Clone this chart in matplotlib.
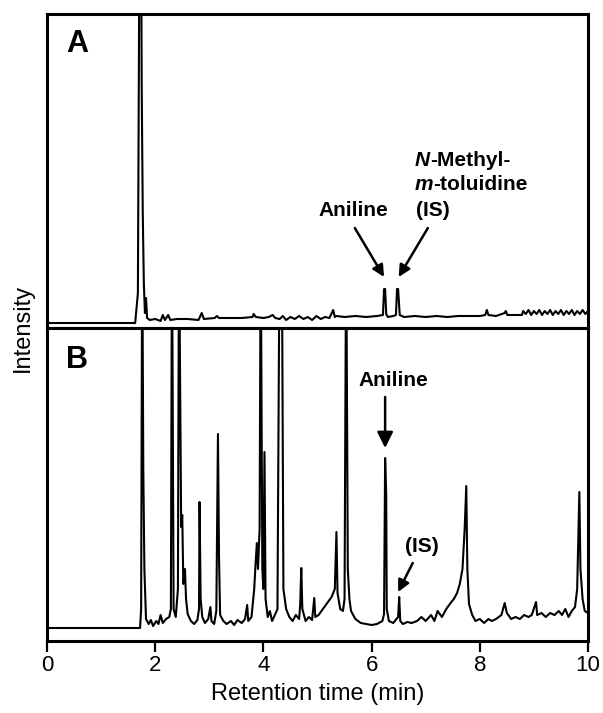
import matplotlib
matplotlib.use('Agg')
import matplotlib.pyplot as plt

# chromatogram A (standard), intensity in arbitrary units
time_a = [0.00, 1.63, 1.65, 1.68, 1.71, 1.74, 1.75, 1.77, 1.79, 1.81, 1.83, 1.85, 1.90, 2.00,
          2.10, 2.14, 2.18, 2.24, 2.28, 2.40, 2.60, 2.80, 2.86, 2.90, 3.10, 3.14, 3.18, 3.40,
          3.60, 3.80, 3.82, 3.86, 4.00, 4.10, 4.17, 4.22, 4.30, 4.36, 4.42, 4.50, 4.58, 4.66,
          4.74, 4.82, 4.90, 4.98, 5.06, 5.14, 5.22, 5.29, 5.32, 5.35, 5.50, 5.70, 5.90, 6.10,
          6.21, 6.23, 6.25, 6.27, 6.30, 6.40, 6.45, 6.47, 6.49, 6.52, 6.60, 6.80, 7.00, 7.20,
          7.40, 7.60, 7.80, 8.00, 8.10, 8.13, 8.16, 8.30, 8.46, 8.48, 8.51, 8.65, 8.78, 8.80,
          8.85, 8.90, 8.95, 9.00, 9.05, 9.10, 9.15, 9.20, 9.25, 9.30, 9.35, 9.40, 9.45, 9.50,
          9.55, 9.60, 9.65, 9.70, 9.75, 9.80, 9.85, 9.90, 9.95, 10.0]
inten_a = [0, 0, 12, 30, 400, 400, 240, 110, 40, 10, 25, 5, 3, 4,
           2, 8, 3, 8, 3, 4, 4, 3, 10, 4, 5, 7, 5, 5,
           5, 6, 9, 6, 5, 6, 8, 5, 4, 7, 3, 6, 4, 7,
           4, 6, 3, 7, 4, 6, 5, 13, 6, 7, 6, 7, 6, 7,
           8, 34, 34, 9, 6, 7, 8, 34, 34, 8, 6, 7, 6, 7,
           6, 7, 7, 7, 8, 13, 8, 7, 10, 12, 8, 8, 8, 12,
           9, 13, 8, 12, 9, 13, 8, 12, 9, 13, 8, 12, 9, 13,
           8, 12, 9, 13, 8, 12, 9, 13, 9, 12]

# chromatogram B (sample)
time_b = [0.00, 1.72, 1.74, 1.76, 1.78, 1.80, 1.83, 1.88, 1.92, 1.96, 2.02, 2.06, 2.10, 2.14,
          2.20, 2.26, 2.29, 2.31, 2.34, 2.38, 2.42, 2.44, 2.48, 2.50, 2.52, 2.55, 2.57, 2.60,
          2.66, 2.72, 2.78, 2.81, 2.82, 2.84, 2.87, 2.92, 2.98, 3.02, 3.04, 3.09, 3.13, 3.16,
          3.18, 3.20, 3.26, 3.32, 3.40, 3.46, 3.52, 3.60, 3.66, 3.70, 3.72, 3.78, 3.83, 3.86,
          3.88, 3.90, 3.93, 3.95, 3.98, 4.00, 4.02, 4.04, 4.08, 4.12, 4.16, 4.22, 4.26, 4.30,
          4.34, 4.37, 4.42, 4.48, 4.54, 4.60, 4.66, 4.68, 4.70, 4.72, 4.78, 4.84, 4.90, 4.94,
          4.96, 5.02, 5.10, 5.18, 5.26, 5.32, 5.35, 5.37, 5.42, 5.47, 5.50, 5.53, 5.56, 5.59,
          5.62, 5.70, 5.80, 5.90, 6.00, 6.10, 6.20, 6.23, 6.25, 6.27, 6.28, 6.32, 6.40, 6.46,
          6.49, 6.51, 6.53, 6.58, 6.66, 6.74, 6.84, 6.92, 7.00, 7.10, 7.16, 7.22, 7.30, 7.38,
          7.46, 7.52, 7.58, 7.63, 7.68, 7.72, 7.75, 7.77, 7.80, 7.86, 7.92, 8.00, 8.08, 8.16,
          8.22, 8.30, 8.40, 8.46, 8.50, 8.58, 8.66, 8.74, 8.82, 8.90, 8.96, 9.04, 9.06, 9.14,
          9.22, 9.30, 9.38, 9.46, 9.52, 9.58, 9.64, 9.70, 9.76, 9.80, 9.84, 9.86, 9.90, 9.94,
          10.0]
inten_b = [1, 1, 20, 400, 160, 60, 10, 5, 9, 3, 8, 5, 14, 6,
           10, 12, 20, 400, 20, 12, 40, 400, 102, 114, 45, 60, 30, 15,
           8, 5, 9, 20, 127, 30, 12, 6, 10, 22, 8, 5, 18, 195,
           70, 14, 8, 5, 8, 4, 9, 6, 10, 24, 8, 12, 40, 70,
           86, 60, 100, 400, 60, 40, 177, 30, 12, 18, 8, 15, 20, 400,
           400, 40, 20, 12, 8, 14, 10, 24, 61, 20, 8, 12, 9, 31,
           12, 14, 20, 26, 32, 40, 97, 36, 20, 18, 30, 400, 60, 30,
           18, 10, 6, 5, 4, 5, 8, 15, 171, 135, 20, 8, 6, 10,
           12, 32, 8, 5, 7, 6, 8, 12, 8, 14, 8, 18, 12, 20,
           26, 30, 36, 45, 60, 100, 143, 60, 25, 14, 8, 10, 6, 10,
           8, 10, 14, 26, 16, 10, 12, 10, 14, 12, 14, 27, 14, 16,
           12, 16, 14, 18, 14, 20, 12, 18, 22, 40, 137, 60, 30, 18,
           16]

x_ticks = [0, 2, 4, 6, 8, 10]


def style_axes(ax):
    for side in ['top', 'bottom', 'left', 'right']:
        ax.spines[side].set_linewidth(2.2)
    ax.set_yticks([])
    ax.set_xlim(0, 10)


def main():
    plt.rcParams['font.family'] = ['Liberation Sans', 'DejaVu Sans']
    fig = plt.figure(figsize=(6.03, 7.13), dpi=100)
    W, H = 603.0, 713.0
    ax_a = fig.add_axes([47 / W, 1 - 328 / H, 541 / W, 314 / H])
    ax_b = fig.add_axes([47 / W, 1 - 641 / H, 541 / W, 313 / H])

    ax_a.plot(time_a, inten_a, color='black', lw=1.5)
    ax_b.plot(time_b, inten_b, color='black', lw=1.5)

    style_axes(ax_a)
    style_axes(ax_b)
    ax_a.set_ylim(-5, 309)
    ax_b.set_ylim(-12, 301)
    ax_a.set_xticks([])
    ax_b.set_xticks(x_ticks)
    ax_b.set_xticklabels([str(t) for t in x_ticks])
    ax_b.tick_params(axis='x', direction='out', length=8, width=1.6, labelsize=16, pad=2)
    ax_b.set_xlabel('Retention time (min)', fontsize=17, labelpad=5)
    fig.text(23 / W, 1 - 328 / H, 'Intensity', fontsize=17, rotation=90, ha='center', va='center')

    ax_a.text(0.056, 0.904, 'A', transform=ax_a.transAxes, fontsize=22, fontweight='bold',
              ha='center', va='center')
    ax_b.text(0.055, 0.898, 'B', transform=ax_b.transAxes, fontsize=22, fontweight='bold',
              ha='center', va='center')

    fs = 15
    small_arrow = dict(arrowstyle='-|>,head_length=0.5,head_width=0.25', lw=1.8, color='black',
                       mutation_scale=14, shrinkA=0, shrinkB=0)
    big_arrow = dict(arrowstyle='-|>,head_length=0.6,head_width=0.3', lw=1.8, color='black',
                     mutation_scale=16, shrinkA=0, shrinkB=0)

    # panel A labels
    ax_a.text(5.66, 113, 'Aniline', fontsize=fs, fontweight='bold', ha='center', va='center')
    ax_a.annotate('', xy=(6.23, 46), xytext=(5.69, 95), arrowprops=small_arrow)
    ax_a.annotate('', xy=(6.50, 46), xytext=(7.04, 95), arrowprops=small_arrow)
    n_txt = ax_a.text(6.80, 163, 'N', fontsize=fs, fontweight='bold', fontstyle='italic',
                      ha='left', va='center')
    ax_a.annotate('-Methyl-', xy=(1, 0), xycoords=n_txt, fontsize=fs, fontweight='bold',
                  ha='left', va='bottom')
    m_txt = ax_a.text(6.80, 138, 'm', fontsize=fs, fontweight='bold', fontstyle='italic',
                      ha='left', va='center')
    ax_a.annotate('-toluidine', xy=(1, 0), xycoords=m_txt, fontsize=fs, fontweight='bold',
                  ha='left', va='bottom')
    ax_a.text(6.82, 113, '(IS)', fontsize=fs, fontweight='bold', ha='left', va='center')

    # panel B labels
    ax_b.text(6.40, 248, 'Aniline', fontsize=fs, fontweight='bold', ha='center', va='center')
    ax_b.annotate('', xy=(6.25, 181), xytext=(6.25, 232), arrowprops=big_arrow)
    ax_b.text(6.93, 83, '(IS)', fontsize=fs, fontweight='bold', ha='center', va='center')
    ax_b.annotate('', xy=(6.49, 37), xytext=(6.76, 66), arrowprops=small_arrow)

    fig.savefig('out.png', dpi=100)


main()
